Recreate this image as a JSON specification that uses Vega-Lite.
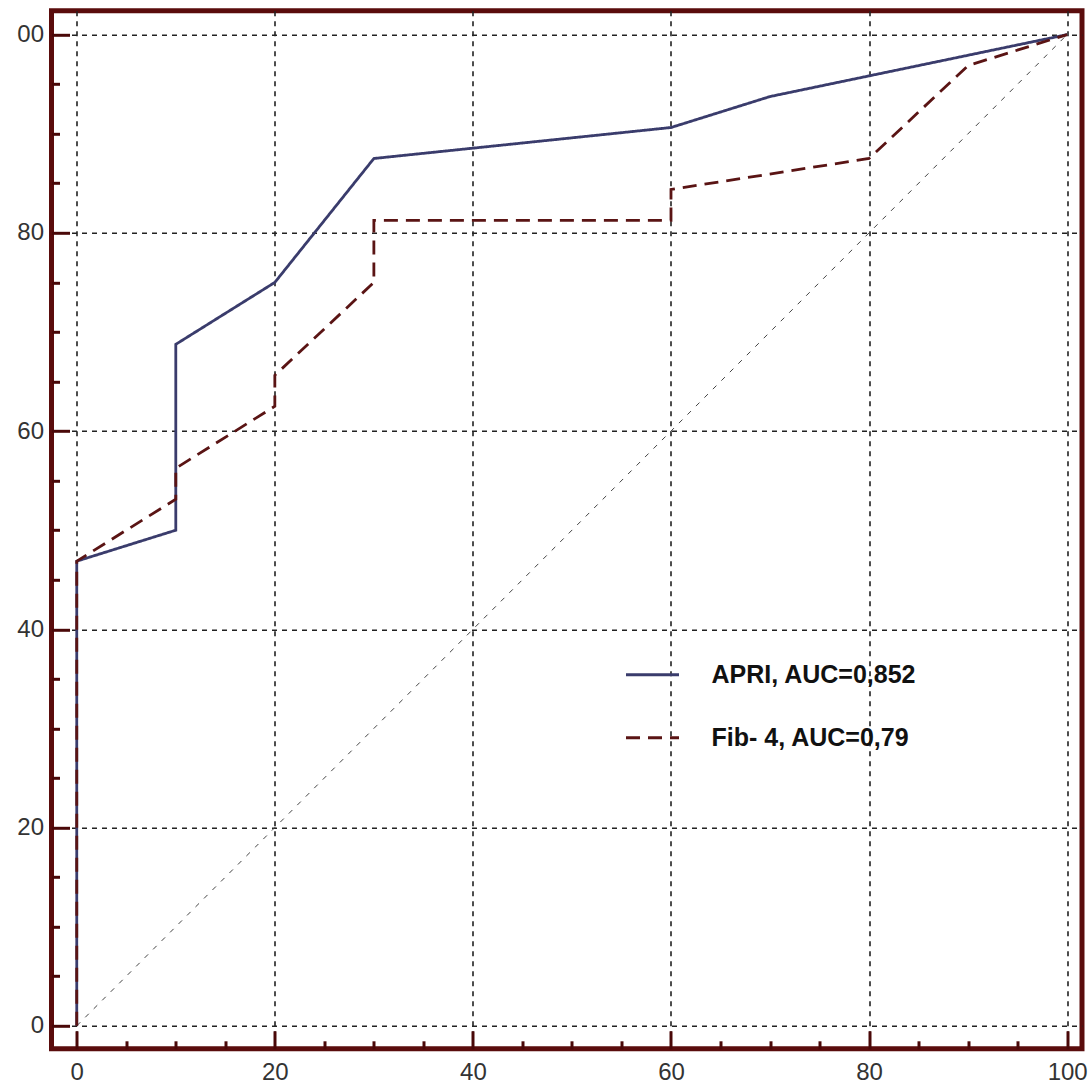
{
  "$schema": "https://vega.github.io/schema/vega-lite/v6.json",
  "width": 1030.5,
  "height": 1038,
  "autosize": "none",
  "padding": {"left": 51.5, "top": 10.8, "right": 9, "bottom": 37.2},
  "background": "white",
  "config": {
    "view": {"stroke": "#5a0c0c", "strokeWidth": 5},
    "axis": {
      "domain": false,
      "labelFont": "Liberation Sans",
      "labelFontSize": 24,
      "labelColor": "#333333",
      "tickColor": "#4a0808",
      "tickWidth": 3,
      "title": null
    }
  },
  "datasets": {
    "roc": [
      {"s": "APRI, AUC=0,852", "x": 0, "y": 0},
      {"s": "APRI, AUC=0,852", "x": 0, "y": 46.875},
      {"s": "APRI, AUC=0,852", "x": 10, "y": 50},
      {"s": "APRI, AUC=0,852", "x": 10, "y": 68.75},
      {"s": "APRI, AUC=0,852", "x": 20, "y": 75},
      {"s": "APRI, AUC=0,852", "x": 30, "y": 87.5},
      {"s": "APRI, AUC=0,852", "x": 60, "y": 90.625},
      {"s": "APRI, AUC=0,852", "x": 70, "y": 93.75},
      {"s": "APRI, AUC=0,852", "x": 100, "y": 100},
      {"s": "Fib- 4, AUC=0,79", "x": 0, "y": 0},
      {"s": "Fib- 4, AUC=0,79", "x": 0, "y": 46.875},
      {"s": "Fib- 4, AUC=0,79", "x": 10, "y": 53.125},
      {"s": "Fib- 4, AUC=0,79", "x": 10, "y": 56.25},
      {"s": "Fib- 4, AUC=0,79", "x": 20, "y": 62.5},
      {"s": "Fib- 4, AUC=0,79", "x": 20, "y": 65.625},
      {"s": "Fib- 4, AUC=0,79", "x": 30, "y": 75},
      {"s": "Fib- 4, AUC=0,79", "x": 30, "y": 81.25},
      {"s": "Fib- 4, AUC=0,79", "x": 60, "y": 81.25},
      {"s": "Fib- 4, AUC=0,79", "x": 60, "y": 84.375},
      {"s": "Fib- 4, AUC=0,79", "x": 80, "y": 87.5},
      {"s": "Fib- 4, AUC=0,79", "x": 90, "y": 96.875},
      {"s": "Fib- 4, AUC=0,79", "x": 100, "y": 100}
    ],
    "diag": [
      {"x": 0, "y": 0},
      {"x": 100, "y": 100}
    ]
  },
  "resolve": {"axis": {"x": "independent", "y": "independent"}},
  "layer": [
    {
      "data": {"name": "diag"},
      "mark": {"type": "line", "stroke": "#444444", "strokeWidth": 1, "strokeDash": [5, 7]},
      "encoding": {
        "x": {
          "field": "x", "type": "quantitative",
          "scale": {"domain": [-2.55, 101.5], "nice": false, "zero": false},
          "axis": {"orient": "bottom", "values": [5, 10, 15, 25, 30, 35, 45, 50, 55, 65, 70, 75, 85, 90, 95], "tickSize": -8, "labels": false, "grid": false}
        },
        "y": {
          "field": "y", "type": "quantitative",
          "scale": {"domain": [-2.32, 102.4], "nice": false, "zero": false},
          "axis": {"orient": "left", "values": [5, 10, 15, 25, 30, 35, 45, 50, 55, 65, 70, 75, 85, 90, 95], "tickSize": -8, "labels": false, "grid": false}
        }
      }
    },
    {
      "data": {"name": "roc"},
      "mark": {"type": "line", "strokeWidth": 2.8},
      "encoding": {
        "x": {
          "field": "x", "type": "quantitative",
          "scale": {"domain": [-2.55, 101.5], "nice": false, "zero": false},
          "axis": {"orient": "bottom", "values": [0, 20, 40, 60, 80, 100], "tickSize": -18, "labelPadding": 30, "grid": true, "gridColor": "#222222", "gridDash": [5, 5], "gridWidth": 1.6}
        },
        "y": {
          "field": "y", "type": "quantitative",
          "scale": {"domain": [-2.32, 102.4], "nice": false, "zero": false},
          "axis": {"orient": "left", "values": [0, 20, 40, 60, 80, 100], "tickSize": -18, "labelPadding": 26, "grid": true, "gridColor": "#222222", "gridDash": [5, 5], "gridWidth": 1.6, "labelExpr": "datum.value == 100 ? '00' : datum.label"}
        },
        "order": [{"field": "x", "type": "quantitative"}, {"field": "y", "type": "quantitative"}],
        "color": {
          "field": "s", "type": "nominal",
          "scale": {"domain": ["APRI, AUC=0,852", "Fib- 4, AUC=0,79"], "range": ["#3a3c6c", "#5a1414"]},
          "legend": {
            "title": null, "orient": "none", "legendX": 573, "legendY": 636,
            "symbolType": "stroke", "symbolSize": 2809, "symbolStrokeWidth": 3,
            "labelFont": "Liberation Sans", "labelFontSize": 25, "labelFontWeight": "bold", "labelColor": "#111111",
            "labelOffset": 31, "rowPadding": 22, "padding": 0, "labelLimit": 400
          }
        },
        "strokeDash": {
          "field": "s", "type": "nominal",
          "scale": {"domain": ["APRI, AUC=0,852", "Fib- 4, AUC=0,79"], "range": [[1, 0], [14, 8]]},
          "legend": {
            "title": null, "orient": "none", "legendX": 573, "legendY": 636,
            "symbolType": "stroke", "symbolSize": 2809, "symbolStrokeWidth": 3,
            "labelFont": "Liberation Sans", "labelFontSize": 25, "labelFontWeight": "bold", "labelColor": "#111111",
            "labelOffset": 31, "rowPadding": 22, "padding": 0, "labelLimit": 400
          }
        }
      }
    }
  ]
}
